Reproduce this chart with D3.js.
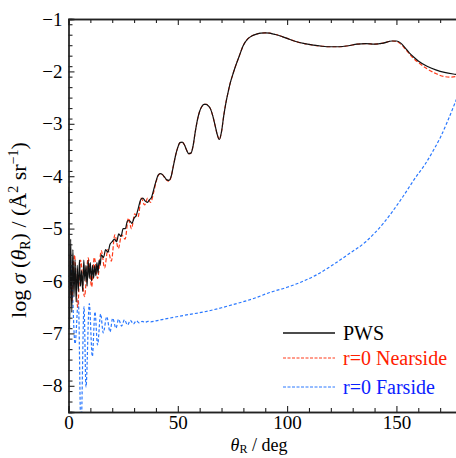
<!DOCTYPE html>
<html>
<head>
<meta charset="utf-8">
<script src="https://cdn.jsdelivr.net/npm/d3@7"></script>
<style>
  body { margin: 0; background: #fff; }
</style>
</head>
<body>
<div id="chart"></div>
<script>
// PWS (full partial-wave sum)
var pwsTheta = [0, 0.5, 1, 1.5, 2, 2.5, 3, 3.5, 4, 4.5, 5, 5.5, 6, 6.5, 7, 7.5, 8, 8.5, 9, 9.5,
  10, 10.5, 11, 11.5, 12, 12.5, 13, 13.5, 14, 14.5, 15, 16, 17, 18, 19, 20, 21, 22, 23, 24,
  25, 26, 27, 28, 29, 30, 31, 32, 33, 34, 35, 36, 37, 38, 39, 40, 41, 42, 43, 44,
  45, 46, 47, 48, 49, 50, 51, 52, 53, 54, 55, 56, 57, 58, 59, 60, 61, 62, 63, 64,
  65, 66, 67, 68, 69, 70, 71, 72, 73, 74, 75, 76, 78, 80, 82, 84, 86, 88, 90, 92,
  94, 96, 98, 100, 104, 108, 112, 116, 120, 124, 128, 132, 136, 140, 144, 148, 150, 152, 154, 156,
  158, 160, 164, 168, 172, 176, 180];
var pwsLog = [-4.2, -6.9, -5.2, -6.6, -5.4, -6.3, -5.6, -6.4, -5.7, -6.2, -5.6, -6.1, -5.8, -6.2, -5.6, -6.0, -5.7, -6.1, -5.6, -5.95,
  -5.65, -6.0, -5.7, -5.95, -5.7, -5.9, -5.65, -5.85, -5.6, -5.7, -5.5, -5.55, -5.4, -5.45, -5.3, -5.25, -5.2, -5.25, -5.1, -5.15,
  -5.0, -5.0, -4.85, -4.85, -4.9, -4.8, -4.75, -4.6, -4.45, -4.42, -4.47, -4.5, -4.45, -4.4, -4.25, -4.1, -3.98, -3.95, -3.97, -4.02,
  -4.07, -4.08, -4.0, -3.8, -3.6, -3.45, -3.36, -3.35, -3.4, -3.5, -3.57, -3.56, -3.42, -3.15, -2.92, -2.76, -2.67, -2.63, -2.63, -2.66,
  -2.72, -2.85, -3.02, -3.2, -3.3, -3.15, -2.85, -2.6, -2.4, -2.22, -2.08, -1.95, -1.72, -1.5, -1.38, -1.32, -1.29, -1.27, -1.265, -1.27,
  -1.29, -1.31, -1.34, -1.37, -1.43, -1.47, -1.5, -1.52, -1.53, -1.53, -1.51, -1.48, -1.47, -1.48, -1.46, -1.42, -1.42, -1.46, -1.55, -1.65,
  -1.73, -1.8, -1.9, -1.97, -2.02, -2.05, -2.07];

// l=0 nearside
var nearTheta = [0.5, 1.5, 2.7, 4.2, 5.5, 7.3, 9, 10.6, 11.8, 13.3, 15, 16.5, 18, 19.6, 21.2, 22.8, 24.3, 25.9, 27.4, 28.8,
  30.3, 31.8, 33.3, 34.8, 36.2, 37.5, 39, 40, 41, 42, 43, 44, 45, 46, 47, 48, 49, 50, 51, 52,
  53, 54, 55, 56, 57, 58, 59, 60, 61, 62, 63, 64, 65, 66, 67, 68, 69, 70, 71, 72,
  73, 74, 75, 76, 78, 80, 82, 84, 86, 88, 90, 92, 94, 96, 98, 100, 104, 108, 112, 116,
  120, 124, 128, 132, 136, 140, 144, 148, 150, 152, 154, 156, 158, 160, 164, 168, 172, 175, 178, 180];
var nearLog = [-5.5, -6.4, -5.5, -6.5, -5.6, -6.3, -5.56, -6.11, -5.55, -5.95, -5.42, -5.75, -5.4, -5.62, -5.12, -5.38, -5.12, -5.2, -4.8, -5.0,
  -4.72, -4.78, -4.42, -4.55, -4.42, -4.5, -4.3, -4.12, -3.99, -3.95, -3.97, -4.03, -4.08, -4.1, -4.0, -3.8, -3.6, -3.45, -3.36, -3.35,
  -3.4, -3.5, -3.57, -3.56, -3.42, -3.15, -2.92, -2.76, -2.67, -2.63, -2.63, -2.66, -2.72, -2.85, -3.02, -3.2, -3.3, -3.15, -2.85, -2.6,
  -2.4, -2.22, -2.08, -1.95, -1.72, -1.5, -1.38, -1.32, -1.29, -1.27, -1.265, -1.27, -1.29, -1.31, -1.34, -1.37, -1.43, -1.47, -1.5, -1.52,
  -1.53, -1.53, -1.51, -1.48, -1.47, -1.48, -1.46, -1.42, -1.43, -1.48, -1.57, -1.67, -1.76, -1.83, -1.95, -2.04, -2.1, -2.11, -2.09, -2.06];

// l=0 farside
var farTheta = [1, 1.5, 3, 4.5, 5.7, 7.1, 8, 9.5, 10.9, 12.1, 13.3, 14.7, 15.9, 17.5, 19, 20.2, 21.7, 22.9, 24.3, 25.6,
  27, 28.3, 29.7, 31, 32.4, 33.7, 35, 36.3, 37.6, 40, 46, 55, 62, 70, 77, 85, 92, 100, 107, 114,
  121, 128, 136, 144, 152, 159, 163, 167, 170, 173, 177, 180];
var farLog = [-5.6, -5.9, -7.2, -6.36, -8.9, -6.49, -8.02, -6.43, -7.44, -6.59, -7.22, -6.63, -6.99, -6.68, -6.97, -6.71, -6.9, -6.73, -6.86, -6.74,
  -6.84, -6.75, -6.82, -6.76, -6.8, -6.77, -6.79, -6.77, -6.78, -6.76, -6.71, -6.64, -6.59, -6.51, -6.43, -6.33, -6.22, -6.12, -6.01, -5.87,
  -5.69, -5.49, -5.25, -4.9, -4.45, -4.01, -3.78, -3.5, -3.27, -2.99, -2.58, -2.25];

var xTickLabels = [0, 50, 100, 150];
var yTickLabels = [-1, -2, -3, -4, -5, -6, -7, -8];
var legendNames = ["PWS", "r=0 Nearside", "r=0 Farside"];

var font = "'Liberation Serif', 'Times New Roman', 'Liberation Sans', Arial, sans-serif";
var width = 456, height = 458;
var svg = d3.select("#chart").append("svg")
  .attr("width", width)
  .attr("height", height)
  .attr("font-family", font);

var x = d3.scaleLinear().domain([0, 180]).range([68.5, 462]);
var y = d3.scaleLinear().domain([-8.5, -1]).range([412, 19]);

svg.append("clipPath").attr("id", "plotclip")
  .append("rect")
  .attr("x", 68.5).attr("y", 19)
  .attr("width", 462 - 68.5).attr("height", 412 - 19);

var line = d3.line()
  .x(function(d) { return x(d[0]); })
  .y(function(d) { return y(d[1]); })
  .curve(d3.curveMonotoneX);

var plot = svg.append("g").attr("clip-path", "url(#plotclip)");

var series = [
  { theta: farTheta, vals: farLog, color: "#2a78ff", dash: "3,2", textColor: "#0b22ff" },
  { theta: nearTheta, vals: nearLog, color: "#ff3b1a", dash: "4,2", textColor: "#ff2000" },
  { theta: pwsTheta, vals: pwsLog, color: "#111", dash: null, textColor: "#000" }
];

series.forEach(function(s) {
  var pts = s.theta.map(function(t, i) { return [t, s.vals[i]]; });
  plot.append("path")
    .attr("d", line(pts))
    .attr("fill", "none")
    .attr("stroke", s.color)
    .attr("stroke-width", 1.2)
    .attr("stroke-dasharray", s.dash);
});

// axes
var minorX = d3.range(0, 181, 10).filter(function(v) { return v % 50 != 0; });
var minorY = d3.range(-85, -9, 2).map(function(v) { return v / 10; }).filter(function(v) { return Math.abs(v - Math.round(v)) > 0.01; });

function styleAxis(g) {
  g.attr("font-family", font);
  g.select(".domain").attr("stroke", "#222").attr("stroke-width", 1.3);
  g.selectAll(".tick line").attr("stroke", "#222").attr("stroke-width", 1.1);
  g.selectAll("text").attr("font-size", 19).attr("fill", "#000");
}

svg.append("g").attr("transform", "translate(0,412)")
  .call(d3.axisBottom(x).tickValues(xTickLabels).tickSize(-6).tickPadding(4).tickFormat(d3.format("d")))
  .call(styleAxis);
svg.append("g").attr("transform", "translate(0,412)")
  .call(d3.axisBottom(x).tickValues(minorX).tickSize(-4).tickFormat(""))
  .call(styleAxis);
svg.append("g").attr("transform", "translate(0,19)")
  .call(d3.axisTop(x).tickValues(xTickLabels).tickSize(-6).tickFormat(""))
  .call(styleAxis);
svg.append("g").attr("transform", "translate(0,19)")
  .call(d3.axisTop(x).tickValues(minorX).tickSize(-4).tickFormat(""))
  .call(styleAxis);
svg.append("g").attr("transform", "translate(68.5,0)")
  .call(d3.axisLeft(y).tickValues(yTickLabels).tickSize(-6).tickPadding(6).tickFormat(d3.format("d")))
  .call(styleAxis);
svg.append("g").attr("transform", "translate(68.5,0)")
  .call(d3.axisLeft(y).tickValues(minorY).tickSize(-4).tickFormat(""))
  .call(styleAxis);

// x label
var xl = svg.append("text")
  .attr("x", 259).attr("y", 451)
  .attr("text-anchor", "middle")
  .attr("font-size", 18);
xl.append("tspan").attr("font-style", "italic").text("θ");
xl.append("tspan").attr("font-size", 12).attr("dy", 2).text("R");
xl.append("tspan").attr("dy", -2).text(" / deg");

// y label
var yl = svg.append("text")
  .attr("transform", "translate(26,230) rotate(-90)")
  .attr("text-anchor", "middle")
  .attr("font-size", 22);
yl.append("tspan").text("log ");
yl.append("tspan").attr("font-style", "italic").text("σ");
yl.append("tspan").text(" (");
yl.append("tspan").attr("font-style", "italic").text("θ");
yl.append("tspan").attr("font-size", 14).attr("dy", 4).text("R");
yl.append("tspan").attr("dy", -4).text(") / (Å");
yl.append("tspan").attr("font-size", 14).attr("dy", -8).text("2");
yl.append("tspan").attr("dy", 8).text(" sr");
yl.append("tspan").attr("font-size", 14).attr("dy", -8).text("\u22121");
yl.append("tspan").attr("dy", 8).text(")");

// legend
var legendY = [333, 358, 387];
var legendSeries = [series[2], series[1], series[0]];
legendSeries.forEach(function(s, i) {
  svg.append("line")
    .attr("x1", 283).attr("x2", 335)
    .attr("y1", legendY[i]).attr("y2", legendY[i])
    .attr("stroke", s.color)
    .attr("stroke-width", s.dash ? 1 : 1.4)
    .attr("stroke-dasharray", s.dash ? "3,1.5" : null);
  svg.append("text")
    .attr("x", 343).attr("y", legendY[i] + 7)
    .attr("font-size", 20)
    .attr("fill", s.textColor)
    .text(legendNames[i]);
});
</script>
</body>
</html>
